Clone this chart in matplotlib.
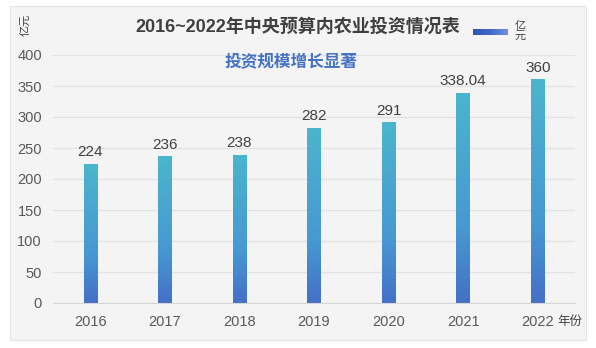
import matplotlib
matplotlib.use('Agg')
import matplotlib.pyplot as plt
import numpy as np
from matplotlib.colors import LinearSegmentedColormap
from matplotlib.patches import Rectangle

plt.rcParams['font.family'] = ['Liberation Sans', 'Noto Sans CJK SC', 'DejaVu Sans']

years = ['2016', '2017', '2018', '2019', '2020', '2021', '2022']
values = [224, 236, 238, 282, 291, 338.04, 360]
value_labels = ['224', '236', '238', '282', '291', '338.04', '360']
yticks = [0, 50, 100, 150, 200, 250, 300, 350, 400]

W, H = 596, 348
fig = plt.figure(figsize=(W / 100, H / 100), dpi=100)
fig.patch.set_facecolor('white')

# grey panel behind the chart
fig.patches.append(Rectangle((10 / W, 1 - 340 / H), 576 / W, 334 / H, transform=fig.transFigure,
                             facecolor='#f4f4f4', edgecolor='#e4e4e4', lw=0.8, zorder=-10))

ax = fig.add_axes([53 / W, 1 - 303 / H, 522 / W, 248 / H])
ax.set_facecolor('none')

bar_cmap = LinearSegmentedColormap.from_list('bars', [(0, '#4470c6'), (0.35, '#4798d2'), (1, '#4bb5cd')])
grad = np.linspace(0, 1, 256).reshape(-1, 1)

x = np.arange(len(years))
bars = ax.bar(x, values, width=0.18, color='none', zorder=2)
for b, lab in zip(bars, value_labels):
    x0, w, h = b.get_x(), b.get_width(), b.get_height()
    ax.imshow(grad, cmap=bar_cmap, origin='lower', aspect='auto',
              extent=(x0, x0 + w, 0, h), zorder=2)
    ax.text(x0 + w / 2, h + 8, lab, ha='center', va='bottom', fontsize=11, color='#404040')

ax.set_xlim(-0.5, len(years) - 0.5)
ax.set_ylim(0, 400)
ax.set_yticks(yticks)
ax.yaxis.grid(True, color='#e2e2e2', lw=0.9, zorder=0)
ax.set_axisbelow(True)
for s in ['top', 'right', 'left']:
    ax.spines[s].set_visible(False)
ax.spines['bottom'].set_color('#d6d6d6')
ax.set_xticks(x)
ax.set_xticklabels(years)
ax.tick_params(axis='both', length=0, labelsize=10.5, labelcolor='#595959')
ax.tick_params(axis='x', pad=9)
ax.tick_params(axis='y', pad=8)

ax.text(len(years) - 1 + 0.26, -0.052, '年份', transform=ax.get_xaxis_transform(),
        ha='left', va='top', fontsize=9, color='#404040')

fig.text(25 / W, 1 - 25 / H, '亿元', rotation=90, ha='center', va='center', fontsize=8, color='#404040')
fig.text(298 / W, 1 - 27 / H, '2016~2022年中央预算内农业投资情况表', ha='center', va='center',
         fontsize=13, fontweight='bold', color='#404040')
fig.text(291 / W, 1 - 62 / H, '投资规模增长显著', ha='center', va='center',
         fontsize=12, fontweight='bold', color='#4472c4')

# legend swatch
lax = fig.add_axes([473 / W, 1 - 35 / H, 35 / W, 6 / H])
lax.imshow(np.linspace(0, 1, 64).reshape(1, -1), aspect='auto',
           cmap=LinearSegmentedColormap.from_list('leg', ['#2e55b5', '#3f68c6', '#6e92dc']))
lax.axis('off')
fig.text(520 / W, 1 - 31 / H, '亿\n元', ha='center', va='center', fontsize=8, color='#404040', linespacing=1.0)

fig.savefig('out.png', dpi=100)
